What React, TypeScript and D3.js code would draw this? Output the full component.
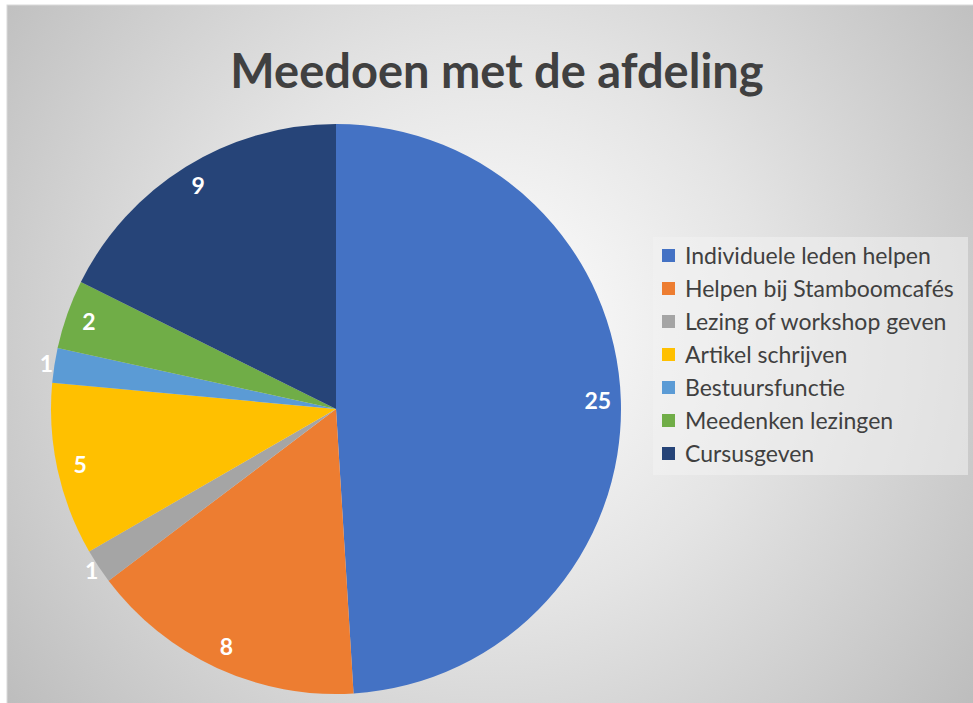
import React from "react";
import * as d3 from "d3";

const categories = [
  "Individuele leden helpen",
  "Helpen bij Stamboomcafés",
  "Lezing of workshop geven",
  "Artikel schrijven",
  "Bestuursfunctie",
  "Meedenken lezingen",
  "Cursusgeven",
];
const values = [25, 8, 1, 5, 1, 2, 9];
const colors = ["#4472C4", "#ED7D31", "#A5A5A5", "#FFC000", "#5B9BD5", "#70AD47", "#264478"];
const title = "Meedoen met de afdeling";

const W = 973;
const H = 703;

export default function App() {
  const cx = 336;
  const cy = 409;
  const r = 285;
  const pie = d3.pie<number>().sort(null).value((d) => d)(values);
  const arc = d3.arc<d3.PieArcDatum<number>>().innerRadius(0).outerRadius(r);
  const font = "Lato, 'Open Sans', sans-serif";

  return (
    <svg
      width={W}
      height={H}
      style={{ position: "absolute", left: 0, top: 0 }}
      fontFamily={font}
    >
      <defs>
        <radialGradient id="bg" gradientUnits="userSpaceOnUse" cx={490} cy={330} r={620}>
          <stop offset="0" stopColor="#ffffff" />
          <stop offset="0.45" stopColor="#e4e4e4" />
          <stop offset="1" stopColor="#bcbcbc" />
        </radialGradient>
      </defs>
      <rect x={0} y={0} width={W} height={H} fill="#ffffff" />
      <rect x={7} y={5} width={W} height={H} fill="url(#bg)" stroke="#d9d9d9" strokeWidth={1} />
      <text
        x={497}
        y={88}
        textAnchor="middle"
        fontSize={47}
        fontWeight="bold"
        fill="#404040"
      >
        {title}
      </text>
      <g transform={`translate(${cx},${cy})`}>
        {pie.map((p, i) => (
          <path key={i} d={arc(p) || ""} fill={colors[i]} />
        ))}
        {pie.map((p, i) => {
          const a = (p.startAngle + p.endAngle) / 2;
          const lr = p.value <= 1 ? r + 8 : r - 23;
          const x = lr * Math.sin(a);
          const y = -lr * Math.cos(a);
          return (
            <text
              key={i}
              x={x}
              y={y}
              dy="0.35em"
              textAnchor="middle"
              fontSize={23}
              fontWeight="bold"
              fill="#ffffff"
            >
              {p.value}
            </text>
          );
        })}
      </g>
      <rect x={653} y={237} width={315} height={238} fill="#f2f2f2" fillOpacity={0.55} />
      {categories.map((c, i) => (
        <g key={c} transform={`translate(662,${256 + i * 33})`}>
          <rect x={0} y={-7} width={13} height={13} fill={colors[i]} />
          <text x={23} y={0} dy="0.35em" fontSize={23} fill="#404040">
            {c}
          </text>
        </g>
      ))}
    </svg>
  );
}
